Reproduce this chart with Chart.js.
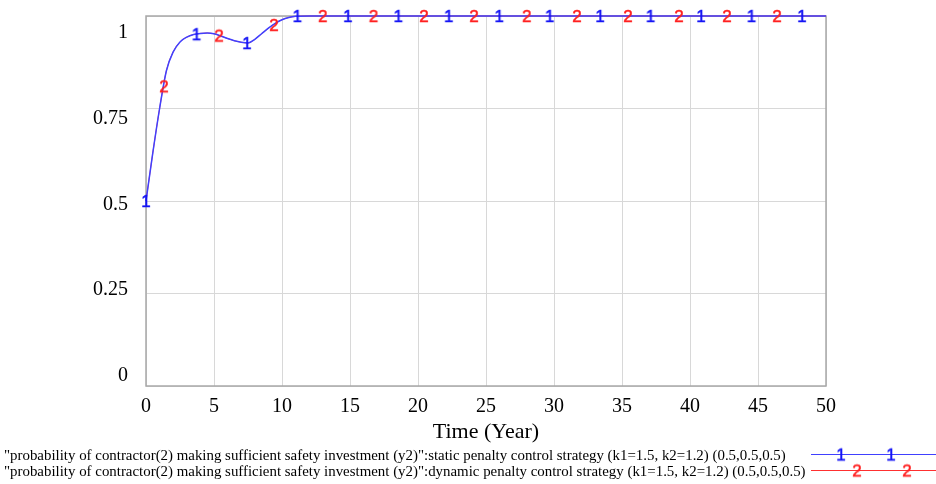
<!DOCTYPE html>
<html>
<head>
<meta charset="utf-8">
<script src="https://cdn.jsdelivr.net/npm/chart.js@4.4.0/dist/chart.umd.min.js"></script>
<style>
  html, body { margin: 0; padding: 0; background: #fff; }
  #wrap { width: 936px; height: 484px; }
</style>
</head>
<body>
<div id="wrap"><canvas id="chart"></canvas></div>
<script>
// time axis (years) and the two simulated series
const times = [0, 0.5, 1, 1.5, 2, 2.5, 3, 3.5, 4, 4.5, 5, 5.5, 6, 6.5, 7, 7.5, 8, 8.5, 9, 9.5, 10, 10.5, 11, 12, 15, 20, 25, 30, 35, 40, 45, 50];
const staticValues = [0.5, 0.63, 0.75, 0.852, 0.903, 0.93, 0.943, 0.95, 0.953, 0.954, 0.952, 0.946, 0.939, 0.933, 0.929, 0.927, 0.937, 0.952, 0.967, 0.98, 0.99, 0.996, 0.999, 1, 1, 1, 1, 1, 1, 1, 1, 1];
const dynamicValues = [0.5, 0.63, 0.75, 0.852, 0.903, 0.93, 0.943, 0.95, 0.953, 0.954, 0.952, 0.946, 0.939, 0.933, 0.929, 0.927, 0.937, 0.952, 0.967, 0.98, 0.99, 0.996, 0.999, 1, 1, 1, 1, 1, 1, 1, 1, 1];

// marker glyph positions ("1" / "2") along each curve
const marker1Times = [0, 3.71, 7.42, 11.13, 14.84, 18.55, 22.26, 25.97, 29.68, 33.39, 37.1, 40.81, 44.52, 48.23];
const marker1Values = [0.5, 0.951, 0.927, 1, 1, 1, 1, 1, 1, 1, 1, 1, 1, 1];
const marker2Times = [1.32, 5.37, 9.41, 13.0, 16.73, 20.44, 24.12, 28.0, 31.69, 35.44, 39.19, 42.72, 46.4];
const marker2Values = [0.81, 0.947, 0.976, 1, 1, 1, 1, 1, 1, 1, 1, 1, 1];

const xTicks = [0, 5, 10, 15, 20, 25, 30, 35, 40, 45, 50];
const yTicks = [0, 0.25, 0.5, 0.75, 1];
const yTickLabels = ['0', '0.25', '0.5', '0.75', '1'];

const xTitle = 'Time (Year)';
const legendLabels = [
  '"probability of contractor(2) making sufficient safety investment (y2)":static penalty control strategy (k1=1.5, k2=1.2) (0.5,0.5,0.5)',
  '"probability of contractor(2) making sufficient safety investment (y2)":dynamic penalty control strategy (k1=1.5, k2=1.2) (0.5,0.5,0.5)'
];

const blue = '#4040ff';
const red = '#ff3030';
const glyphBlue = '#1515f5';
const glyphRed = '#ff2020';

function makeGlyph(txt, color) {
  const c = document.createElement('canvas');
  c.width = 14;
  c.height = 20;
  const g = c.getContext('2d');
  g.font = '17px "Liberation Sans", Arial, sans-serif';
  g.fillStyle = color;
  g.strokeStyle = color;
  g.lineWidth = 0.5;
  g.textAlign = 'center';
  g.textBaseline = 'alphabetic';
  g.fillText(txt, 7, 16);
  g.strokeText(txt, 7, 16);
  return c;
}

const glyph1 = makeGlyph('1', glyphBlue);
const glyph2 = makeGlyph('2', glyphRed);

function pts(xs, ys) {
  return xs.map((x, i) => ({ x: x, y: ys[i] }));
}

const serif = '"Liberation Serif", "Times New Roman", serif';

const framePlugin = {
  id: 'frame',
  beforeDatasetsDraw(chart) {
    const { ctx, chartArea: a } = chart;
    ctx.save();
    ctx.strokeStyle = '#a8a8a8';
    ctx.lineWidth = 1.5;
    ctx.strokeRect(a.left, a.top, a.right - a.left, a.bottom - a.top);
    ctx.restore();
  },
  afterDraw(chart) {
    const { ctx, chartArea: a } = chart;
    const xs = chart.scales.x;
    ctx.save();
    ctx.fillStyle = '#000';

    // y labels (Vensim spreads them slightly inside the frame)
    ctx.font = '20px ' + serif;
    ctx.textAlign = 'right';
    ctx.textBaseline = 'middle';
    const h = a.bottom - a.top;
    yTicks.forEach((v, i) => {
      const y = a.top + 16.5 + (1 - v) * (h - 26.5);
      ctx.fillText(yTickLabels[i], a.left - 18, y);
    });

    // x labels
    ctx.textAlign = 'center';
    xTicks.forEach(v => {
      ctx.fillText(String(v), xs.getPixelForValue(v), a.bottom + 21);
    });

    // x title
    ctx.font = '22px ' + serif;
    ctx.fillText(xTitle, (a.left + a.right) / 2, a.bottom + 46.5);

    // legend
    ctx.font = '14.9px ' + serif;
    ctx.textAlign = 'left';
    const rows = [
      { y: 454.5, color: blue, glyph: glyph1, at: [841, 891] },
      { y: 470.5, color: red, glyph: glyph2, at: [857, 907] }
    ];
    rows.forEach((r, i) => {
      ctx.fillStyle = '#000';
      ctx.fillText(legendLabels[i], 4, r.y + 2);
      ctx.strokeStyle = r.color;
      ctx.lineWidth = 1.2;
      ctx.beginPath();
      ctx.moveTo(811, r.y);
      ctx.lineTo(936, r.y);
      ctx.stroke();
      r.at.forEach(x => {
        ctx.drawImage(r.glyph, x - 7, r.y - 10);
      });
    });
    ctx.restore();
  }
};

new Chart(document.getElementById('chart'), {
  type: 'line',
  data: {
    datasets: [
      {
        label: 'markers 1',
        data: pts(marker1Times, marker1Values),
        showLine: false,
        pointStyle: glyph1,
        pointRadius: 7,
        clip: false
      },
      {
        label: 'markers 2',
        data: pts(marker2Times, marker2Values),
        showLine: false,
        pointStyle: glyph2,
        pointRadius: 7,
        clip: false
      },
      {
        label: 'static',
        data: pts(times, staticValues),
        borderColor: blue,
        borderWidth: 1.5,
        pointRadius: 0,
        cubicInterpolationMode: 'monotone',
        clip: false
      },
      {
        label: 'dynamic',
        data: pts(times, dynamicValues),
        borderColor: red,
        borderWidth: 0.8,
        pointRadius: 0,
        cubicInterpolationMode: 'monotone',
        clip: false
      }
    ]
  },
  options: {
    responsive: true,
    maintainAspectRatio: false,
    animation: false,
    events: [],
    layout: { padding: { left: 146, top: 16, right: 110, bottom: 98 } },
    plugins: { legend: { display: false }, tooltip: { enabled: false } },
    scales: {
      x: {
        type: 'linear',
        min: 0,
        max: 50,
        afterBuildTicks: s => { s.ticks = xTicks.map(v => ({ value: v })); },
        ticks: { display: false },
        grid: { color: '#d8d8d8', lineWidth: 1, drawTicks: false },
        border: { display: false }
      },
      y: {
        min: 0,
        max: 1,
        afterBuildTicks: s => { s.ticks = yTicks.map(v => ({ value: v })); },
        ticks: { display: false },
        grid: { color: '#d8d8d8', lineWidth: 1, drawTicks: false },
        border: { display: false }
      }
    }
  },
  plugins: [framePlugin]
});
</script>
</body>
</html>
